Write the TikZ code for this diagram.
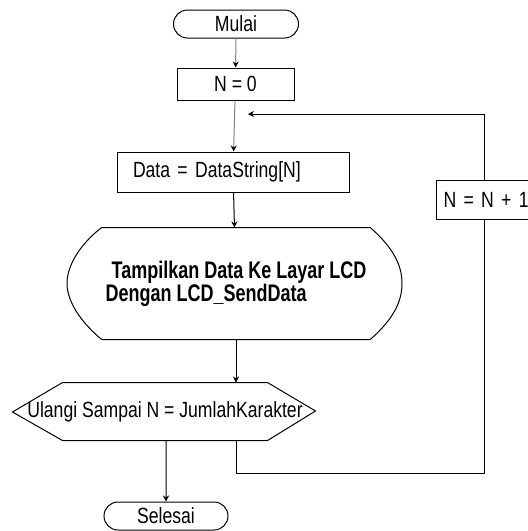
\documentclass[tikz,border=0pt]{standalone}
\usepackage{fontspec}
\setmainfont{Liberation Sans}[FakeStretch=0.8]
\newfontfamily\condfont{Liberation Sans}[FakeStretch=0.75]
\usetikzlibrary{positioning}
\usetikzlibrary{arrows.meta}
\usetikzlibrary{shapes.misc}
\tikzset{terminal/.style={draw, rounded rectangle, minimum width=125pt, minimum height=28pt, inner sep=0pt},
process/.style={draw, rectangle, inner sep=0pt},
flow/.style={-{Stealth[length=6pt, width=6pt, color=black]}}}

\begin{document}
\begin{tikzpicture}[x=1pt, y=-1pt, line width=1pt, font=\fontsize{22}{23}\selectfont]
	\useasboundingbox (0,0) rectangle (528,531);
	\node[terminal] (mulai) at (236,24) {Mulai};
	\node[process, minimum width=117pt, minimum height=32pt] (nol) at (235.5,84) {N = 0};
	\node[process, text width=200pt, inner xsep=16pt, align=left, minimum height=40pt] (data) at (233,172) {Data = DataString[N]};
	\node[process, anchor=west, text width=86pt, inner xsep=7pt, align=left, minimum height=39pt] (tambah) at (436,199.5) {N = N + 1};
	\node[minimum width=267pt, minimum height=111pt, align=left, font=\condfont\bfseries\fontsize{24}{23}\selectfont] (disp) at (236,283.5)
		{\hspace*{6pt}Tampilkan Data Ke Layar LCD\\Dengan LCD\_SendData};
	\node[minimum width=204pt, minimum height=57pt, inner sep=0pt] (ulang) at (165,411.5) {\makebox[204pt][c]{Ulangi Sampai N = JumlahKarakter}};
	\node[terminal, minimum width=124pt] (selesai) at (166,516) {Selesai};
	% outline of display and hexagon
	\draw (disp.north west) -- (disp.north east)
		.. controls (396,250) and (402,268) .. (disp.east -| 402,0)
		.. controls (402,299) and (396,317) .. (disp.south east)
		-- (disp.south west)
		.. controls (85,326) and (67,304) .. (disp.west -| 67,0)
		.. controls (67,262) and (85,240) .. (disp.north west);
	\draw (ulang.north west) -- (ulang.north east) -- ++(48,28.5) -- (ulang.south east)
		-- (ulang.south west) -- ++(-50,-28.5) -- cycle;
	\coordinate (belok) at (484,473);
	\coordinate (masuk) at (248,114);
	\draw[flow, gray] (mulai) -- (nol);
	\draw[flow, gray] (nol) -- (data);
	\draw[flow] (data) -- (disp);
	\draw[flow] (disp.south) -- (disp.south |- ulang.north);
	\draw[flow] (ulang.south -| selesai) -- (selesai);
	\draw (disp.south |- ulang.south) |- (belok) -- (belok |- tambah.south);
	\draw[flow] (belok |- tambah.north) |- (masuk);
\end{tikzpicture}
\end{document}
